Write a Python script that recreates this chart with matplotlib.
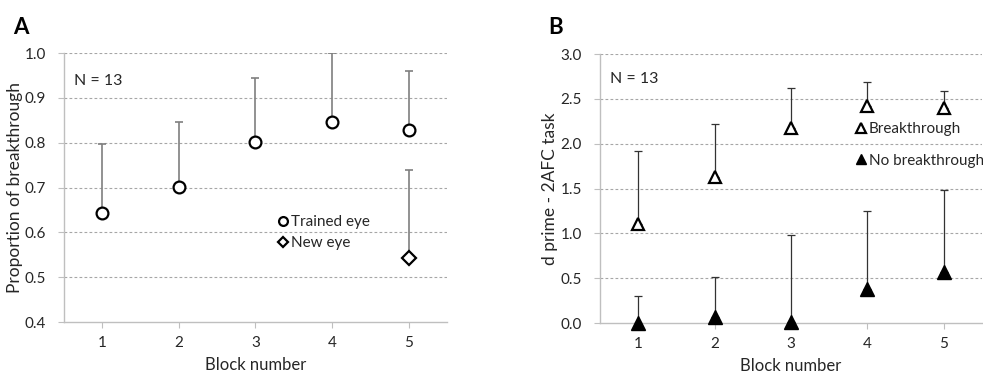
import numpy as np
import matplotlib
matplotlib.use("Agg")
import matplotlib.pyplot as plt

plt.rcParams['font.family'] = ['Lato', 'DejaVu Sans']

# data
blocks = [1, 2, 3, 4, 5]
trained = [0.643, 0.701, 0.801, 0.846, 0.829]
trained_up = [0.797, 0.845, 0.944, 1.0, 0.959]
new_block = [5]
new_eye = [0.543]
new_up = [0.740]

brk = [1.10, 1.63, 2.18, 2.42, 2.40]
brk_up = [1.92, 2.22, 2.62, 2.69, 2.59]
nobrk = [0.0, 0.07, 0.01, 0.38, 0.57]
nobrk_up = [0.30, 0.51, 0.98, 1.25, 1.48]

txt = '#262626'
axc = '#bfbfbf'

fig = plt.figure(figsize=(9.83, 3.72), dpi=100)
axA = fig.add_axes([0.0651, 0.1344, 0.3896, 0.7231])
axB = fig.add_axes([0.6104, 0.1317, 0.3886, 0.7231])


def style(ax, ylim, yticks):
    ax.set_xlim(0.5, 5.5)
    ax.set_ylim(*ylim)
    ax.set_yticks(yticks)
    ax.set_yticklabels(['%.1f' % v for v in yticks])
    ax.set_xticks(blocks)
    for s in ['top', 'right']:
        ax.spines[s].set_visible(False)
    for s in ['left', 'bottom']:
        ax.spines[s].set_color(axc)
        ax.spines[s].set_linewidth(1.0)
    ax.tick_params(axis='both', colors=axc, labelcolor=txt, labelsize=11, length=4)
    ax.tick_params(axis='x', pad=6)
    ax.tick_params(axis='y', pad=9)
    for v in yticks[1:]:
        ax.axhline(v, color='#a6a6a6', lw=0.8, ls=(0, (2.5, 2)), zorder=0)
    ax.set_xlabel('Block number', fontsize=12, color=txt, labelpad=5)


def err(ax, x, y, up, color, lw):
    yerr = [np.zeros(len(y)), np.array(up) - np.array(y)]
    ax.errorbar(x, y, yerr=yerr, fmt='none', ecolor=color, elinewidth=lw,
                capsize=3, capthick=lw, zorder=2)


# panel A
style(axA, (0.4, 1.0), [0.4, 0.5, 0.6, 0.7, 0.8, 0.9, 1.0])
err(axA, blocks, trained, trained_up, '#7f7f7f', 1.2)
err(axA, new_block, new_eye, new_up, '#7f7f7f', 1.2)
axA.plot(blocks, trained, 'o', ls='none', ms=8.5, mfc='white', mec='black', mew=1.6,
         zorder=3, label='Trained eye')
axA.plot(new_block, new_eye, 'D', ls='none', ms=7, mfc='white', mec='black', mew=1.6,
         zorder=3, label='New eye')
axA.set_ylabel('Proportion of breakthrough', fontsize=12.5, color=txt, labelpad=1)
axA.text(0.63, 0.937, 'N = 13', fontsize=11.5, color=txt, va='center')
legA = axA.legend(loc='upper left', bbox_to_anchor=(0.545, 0.42), frameon=False,
                  fontsize=11, handlelength=0.6, handletextpad=0.2,
                  labelspacing=0.45, borderaxespad=0, markerscale=0.75)
for t in legA.get_texts():
    t.set_color(txt)

# panel B
style(axB, (0.0, 3.0), [0.0, 0.5, 1.0, 1.5, 2.0, 2.5, 3.0])
err(axB, blocks, brk, brk_up, '#333333', 0.9)
err(axB, blocks, nobrk, nobrk_up, '#333333', 0.9)
axB.plot(blocks, brk, '^', ls='none', ms=9, mfc='white', mec='black', mew=1.6,
         zorder=3, label='Breakthrough')
axB.plot(blocks, nobrk, '^', ls='none', ms=10, mfc='black', mec='black', mew=1,
         zorder=3, label='No breakthrough', clip_on=False)
axB.set_ylabel('d prime - 2AFC task', fontsize=12.5, color=txt, labelpad=2)
axB.text(0.63, 2.72, 'N = 13', fontsize=11.5, color=txt, va='center')
legB = axB.legend(loc='upper left', bbox_to_anchor=(0.655, 0.77), frameon=False,
                  fontsize=11, handlelength=0.6, handletextpad=0.2,
                  labelspacing=1.15, borderaxespad=0, markerscale=0.75)
for t in legB.get_texts():
    t.set_color(txt)

fig.text(0.013, 0.925, 'A', fontsize=16, fontweight='bold', color='black', va='center')
fig.text(0.558, 0.925, 'B', fontsize=16, fontweight='bold', color='black', va='center')

fig.savefig('out.png', dpi=100)
